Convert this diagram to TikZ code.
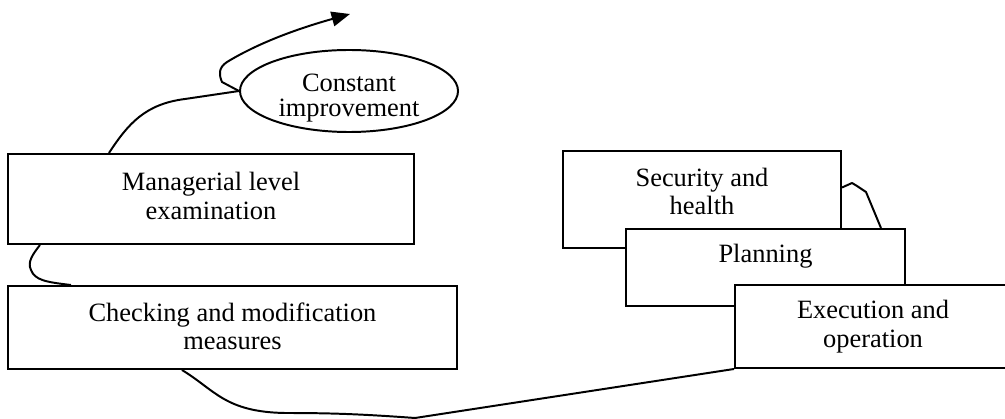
\documentclass[tikz,border=0pt]{standalone}
\usepackage{fontspec}
\setmainfont{Liberation Serif}
\usetikzlibrary{arrows.meta,positioning,shapes.geometric,calc}
\tikzset{
  pbox/.style ={draw, fill=white, line width=1.4pt, inner sep=0pt, align=center,
                font=\fontsize{18.8pt}{20.2pt}\selectfont},
  pell/.style ={pbox, ellipse, font=\fontsize{18.8pt}{17.5pt}\selectfont},
  plink/.style={line width=1.4pt, line join=round},
  parr/.style ={plink, -{Triangle[length=4.6mm, width=3.7mm]}},
}
\begin{document}
\begin{tikzpicture}[x=0.025cm, y=-0.025cm]
\useasboundingbox (0,0) rectangle (1005,419);

% left column
\node[pbox, minimum width=10.15cm, minimum height=2.25cm, text depth=0.16cm] (mgr) at (211,199)
  {Managerial level\\examination};
\node[pbox, minimum width=11.225cm, minimum height=2.075cm, text depth=0.06cm] (chk) at (232.5,327.5)
  {Checking and modification\\measures};
\node[pell, minimum width=5.45cm, minimum height=2.05cm, text height=1.4cm, inner ysep=-0.1cm] (ell) at (349,91)
  {Constant\\improvement};

% right stack
\node[pbox, minimum width=6.95cm, minimum height=2.425cm, text depth=0.42cm] (sec) at (702,199.5)
  {Security and\\health};
\node[pbox, minimum width=6.975cm, minimum height=1.925cm, text depth=0.71cm] (pln) at (765.5,267.5)
  {Planning};
\node[pbox, minimum width=6.9cm, minimum height=2.075cm, text depth=0.13cm] (exe) at (873,326.5)
  {Execution and\\operation};

\coordinate (tip) at (350,14);

% loop
\draw[plink] ($(sec.east)+(0,-12)$) -- (852,183) -- (857,186) -- (866,192)
  -- ($(pln.north west)+(256,0)$);
\draw[plink] (exe.south west) -- (415,418) .. controls (360,414) and (330,413) .. (285,413)
  .. controls (225,412) and (215,390) .. ($(chk.south west)+(175,0)$);
\draw[plink] ($(chk.north west)+(64,0)$) .. controls (45,282) and (35,280) .. (31,270)
  .. controls (27,262) and (33,254) .. ($(mgr.south west)+(33,0)$);
\draw[plink] ($(mgr.north west)+(102,0)$) .. controls (128,124) and (145,104) .. (185,99)
  -- (ell.west);
\draw[parr] (ell.west) -- (222,82) .. controls (219,75) and (218,68) .. (227,62)
  .. controls (260,42) and (300,28) .. (tip);

\end{tikzpicture}
\end{document}
